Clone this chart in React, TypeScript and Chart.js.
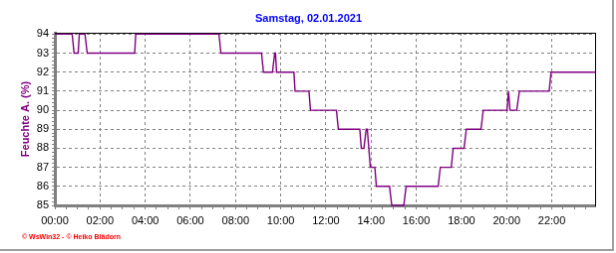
import React, { useEffect, useRef } from 'react';
import { Chart, registerables } from 'chart.js';

Chart.register(...registerables);

const FONT = '"Liberation Sans", Arial, sans-serif';

const TITLE = 'Samstag, 02.01.2021';
const Y_TITLE = 'Feuchte A. (%)';
const FOOTER = '© WsWin32 - © Heiko Blädorn';

// Sample times (HH:MM) and relative humidity values (%)
const times = [
  '00:00', '00:46', '00:51', '01:02', '01:05', '01:20', '01:26', '03:32', '03:35',
  '07:16', '07:21', '09:09', '09:14', '09:38', '09:44', '09:46', '09:49',
  '10:35', '10:38', '11:15', '11:19', '12:28', '12:33', '13:30', '13:34',
  '13:41', '13:47', '13:50', '13:54', '13:58', '14:10', '14:14', '14:49', '14:55',
  '15:27', '15:33', '16:58', '17:04', '17:33', '17:38', '18:07', '18:13',
  '18:52', '18:58', '20:01', '20:05', '20:09', '20:27', '20:34', '21:53', '21:58', '23:55',
];
const humidity = [
  94, 94, 93, 93, 94, 94, 93, 93, 94,
  94, 93, 93, 92, 92, 93, 93, 92,
  92, 91, 91, 90, 90, 89, 89, 88,
  88, 89, 89, 88, 87, 87, 86, 86, 85,
  85, 86, 86, 87, 87, 88, 88, 89,
  89, 90, 90, 91, 90, 90, 91, 91, 92, 92,
];

const xTickLabels = [
  '00:00', '02:00', '04:00', '06:00', '08:00', '10:00',
  '12:00', '14:00', '16:00', '18:00', '20:00', '22:00',
];
const X_END = '23:55';
const Y_MIN = 85;
const Y_MAX = 94.07;

const toMin = (s: string) => {
  const [h, m] = s.split(':').map(Number);
  return h * 60 + m;
};
const isInt = (v: number) => Math.abs(v - Math.round(v)) < 1e-6;

const footerPlugin = {
  id: 'footerText',
  afterDraw(chart: any) {
    const ctx = chart.ctx;
    ctx.save();
    ctx.font = `bold 7px ${FONT}`;
    ctx.fillStyle = '#ff0000';
    ctx.textBaseline = 'alphabetic';
    ctx.textAlign = 'left';
    ctx.fillText(FOOTER, 22, 241);
    ctx.restore();
  },
};

export default function App() {
  const ref = useRef<HTMLCanvasElement | null>(null);

  useEffect(() => {
    if (!ref.current) return;
    const chart = new Chart(ref.current, {
      type: 'line',
      data: {
        datasets: [
          {
            data: times.map((t, i) => ({ x: toMin(t), y: humidity[i] })),
            borderColor: '#800080',
            borderWidth: 1.4,
            pointRadius: 0,
            tension: 0,
            fill: false,
            clip: 3,
            xAxisID: 'x',
            yAxisID: 'y',
          },
        ],
      },
      options: {
        responsive: false,
        animation: false,
        devicePixelRatio: 1,
        layout: { padding: { left: 5, right: 0, top: 0, bottom: 0 } },
        plugins: {
          legend: { display: false },
          tooltip: { enabled: false },
          title: {
            display: true,
            text: TITLE,
            color: '#0000ff',
            font: { family: FONT, size: 11, weight: 'bold' },
            padding: { top: 12.5, bottom: 7.3 },
          },
        },
        scales: {
          x: {
            type: 'linear',
            position: 'bottom',
            min: 0,
            max: toMin(X_END),
            afterFit: (s: any) => {
              s.height = 44;
            },
            ticks: {
              stepSize: 30,
              includeBounds: false,
              autoSkip: false,
              maxRotation: 0,
              padding: 5,
              color: '#000',
              font: { family: FONT, size: 11 },
              callback: (v: any) => {
                const n = Number(v);
                return n % 120 === 0 ? xTickLabels[n / 120] ?? '' : '';
              },
            },
            grid: {
              color: (c: any) =>
                c.tick && c.tick.value % 120 === 0 ? '#808080' : 'rgba(0,0,0,0)',
              lineWidth: 1,
              tickColor: '#808080',
              tickWidth: 1,
              tickLength: 4,
            },
            border: { color: '#808080', width: 3, dash: [3, 3] },
          },
          y: {
            type: 'linear',
            position: 'left',
            min: Y_MIN,
            max: Y_MAX,
            afterFit: (s: any) => {
              s.width = 50;
            },
            ticks: {
              stepSize: 0.2,
              includeBounds: false,
              autoSkip: false,
              padding: 3,
              color: '#000',
              font: { family: FONT, size: 11 },
              callback: (v: any) => (isInt(Number(v)) ? String(Math.round(Number(v))) : ''),
            },
            grid: {
              color: (c: any) =>
                c.tick && isInt(c.tick.value) ? '#808080' : 'rgba(0,0,0,0)',
              lineWidth: 1,
              tickColor: '#808080',
              tickWidth: 1,
              tickLength: 3,
            },
            border: { color: '#808080', width: 3, dash: [3, 3] },
            title: {
              display: true,
              text: Y_TITLE,
              color: '#800080',
              font: { family: FONT, size: 11, weight: 'bold' },
              padding: { top: 14.4, bottom: 0 },
            },
          },
          x2: {
            type: 'linear',
            position: 'top',
            min: 0,
            max: 1,
            afterFit: (s: any) => {
              s.height = 0;
            },
            ticks: { display: false },
            grid: { display: false, drawTicks: false },
            border: { display: true, color: '#000', width: 1 },
          },
          y2: {
            type: 'linear',
            position: 'right',
            min: 0,
            max: 1,
            afterFit: (s: any) => {
              s.width = 17;
            },
            ticks: { display: false },
            grid: { display: false, drawTicks: false },
            border: { display: true, color: '#000', width: 1 },
          },
        },
      } as any,
      plugins: [footerPlugin],
    });
    return () => chart.destroy();
  }, []);

  return (
    <div
      style={{
        position: 'fixed',
        left: 0,
        top: 0,
        width: 616,
        height: 253,
        background: '#ffffff',
      }}
    >
      <canvas
        ref={ref}
        width={614}
        height={251}
        style={{
          display: 'block',
          borderRight: '2px solid #a0a0a0',
          borderBottom: '2px solid #a0a0a0',
        }}
      />
    </div>
  );
}
